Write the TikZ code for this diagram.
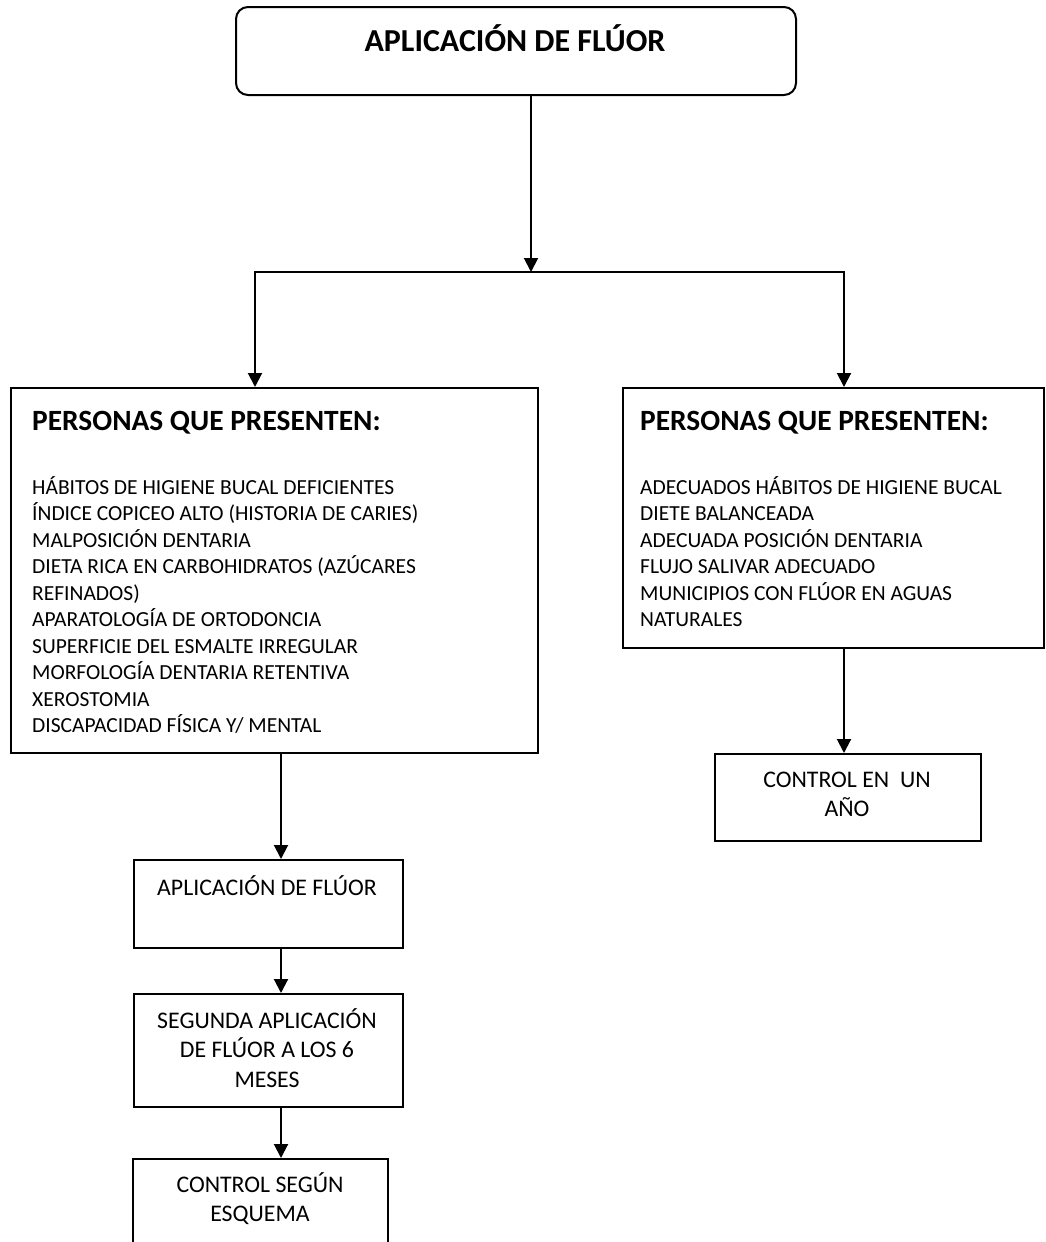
\documentclass[tikz,border=0pt]{standalone}
\usepackage{fontspec}
\setmainfont{Carlito}
\usepackage{tikz}
\usetikzlibrary{arrows.meta, positioning}
\tikzstyle{panel} = [rectangle, draw=black, line width=2pt, anchor=north west, inner sep=0pt]
\tikzstyle{start} = [panel, rounded corners=12pt]
\tikzstyle{title} = [anchor=base, inner sep=0pt, font=\fontsize{32}{38}\selectfont\bfseries]
\tikzstyle{heading} = [anchor=base west, inner sep=0pt, font=\fontsize{29.4}{35}\selectfont\bfseries]
\tikzstyle{listing} = [anchor=base west, inner sep=0pt, align=left, font=\fontsize{21.5}{26.5}\selectfont]
\tikzstyle{steptext} = [anchor=base, inner sep=0pt, align=center, font=\fontsize{23.8}{29.5}\selectfont]
\tikzstyle{arrow} = [line width=2pt, -{Triangle[length=14pt, width=14pt]}]

\begin{document}
\begin{tikzpicture}[x=1pt, y=-1pt]
        \clip (0,0) rectangle (1045,1242);
        % Boxes
        \node (top) [start, minimum width=560pt, minimum height=88pt] at (235,6) {};
        \node (risk) [panel, minimum width=527pt, minimum height=365pt] at (10,387) {};
        \node (needs) [panel, minimum width=421pt, minimum height=260pt] at (622,387) {};
        \node (yearly) [panel, minimum width=266pt, minimum height=87pt] at (714,753) {};
        \node (apply) [panel, minimum width=269pt, minimum height=88pt] at (133,859) {};
        \node (again) [panel, minimum width=269pt, minimum height=113pt] at (133,993) {};
        \node (follow) [panel, minimum width=255pt, minimum height=100pt] at (132,1158) {}; % runs off the page
        % Texts (multi-line nodes sit on the baseline of their last line)
        \node (toptext) [title] at (515,51) {APLICACIÓN DE FLÚOR};
        \node (riskhead) [heading] at (32,430) {PERSONAS QUE PRESENTEN:};
        \node (risklist) [listing] at (32,732.5) {HÁBITOS DE HIGIENE BUCAL DEFICIENTES\\
            ÍNDICE COPICEO ALTO (HISTORIA DE CARIES)\\
            MALPOSICIÓN DENTARIA\\
            DIETA RICA EN CARBOHIDRATOS (AZÚCARES\\
            REFINADOS)\\
            APARATOLOGÍA DE ORTODONCIA\\
            SUPERFICIE DEL ESMALTE IRREGULAR\\
            MORFOLOGÍA DENTARIA RETENTIVA\\
            XEROSTOMIA\\
            DISCAPACIDAD FÍSICA Y/ MENTAL};
        \node (needshead) [heading] at (640,430) {PERSONAS QUE PRESENTEN:};
        \node (needslist) [listing] at (640,626.5) {ADECUADOS HÁBITOS DE HIGIENE BUCAL\\
            DIETE BALANCEADA\\
            ADECUADA POSICIÓN DENTARIA\\
            FLUJO SALIVAR ADECUADO\\
            MUNICIPIOS CON FLÚOR EN AGUAS\\
            NATURALES};
        \node (yearlytext) [steptext] at (847,816.5) {CONTROL EN\ \ UN\\AÑO};
        \node (applytext) [steptext] at (267,895) {APLICACIÓN DE FLÚOR};
        \node (againtext) [steptext] at (267,1087) {SEGUNDA APLICACIÓN\\DE FLÚOR A LOS 6\\MESES};
        \node (followtext) [steptext] at (260,1221.5) {CONTROL SEGÚN\\ESQUEMA};
        % Connectors
        \coordinate (split) at (531,272);
        \coordinate (splitL) at (255,272);
        \coordinate (splitR) at (844,272);
        \coordinate (spine) at (281,753);
        \draw [arrow] (top.south -| split) -- (split);
        \draw [arrow] (split) -| (risk.north -| splitL);
        \draw [arrow] (split) -| (needs.north -| splitR);
        \draw [arrow] (needs.south -| splitR) -- (yearly.north -| splitR);
        \draw [arrow] (risk.south -| spine) -- (apply.north -| spine);
        \draw [arrow] (apply.south -| spine) -- (again.north -| spine);
        \draw [arrow] (again.south -| spine) -- (follow.north -| spine);
    \end{tikzpicture}
\end{document}
